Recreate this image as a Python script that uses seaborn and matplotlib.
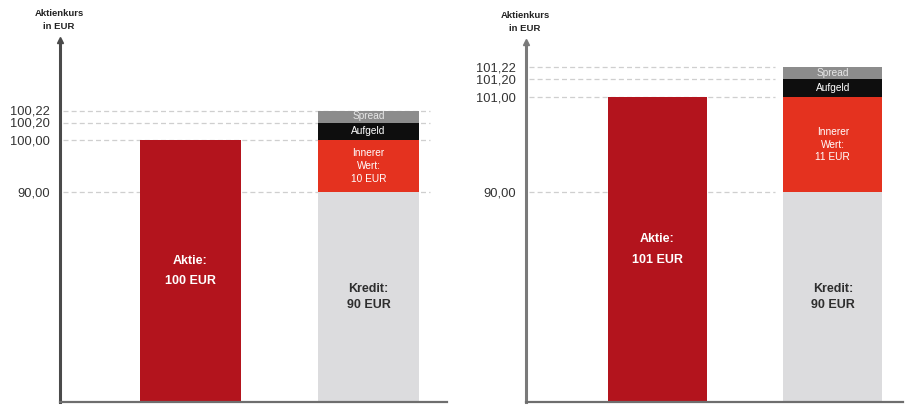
import numpy as np
import pandas as pd
import matplotlib
matplotlib.use("Agg")
import matplotlib.pyplot as plt
import seaborn as sns

# ---------------- data ----------------
categories = ["Aktie", "Optionsschein"]
stock_price = [100.0, 101.0]      # Aktie
credit = [90.0, 90.0]             # Kredit
inner_value = [10.0, 11.0]        # Innerer Wert
premium = [0.20, 0.20]            # Aufgeld
spread = [0.02, 0.02]             # Spread
axis_title = "Aktienkurs\nin EUR"
stock_label = "Aktie:\n{:.0f} EUR"
credit_label = "Kredit:\n{:.0f} EUR"
inner_label = "Innerer\nWert:\n{:.0f} EUR"
premium_label = "Aufgeld"
spread_label = "Spread"

# ---------------- layout / style ----------------
W, H = 905, 405
# schematic (non-linear) axis: pixel heights above baseline for
# [0, credit, stock, stock+premium, total, axis top]
axis_pos = [[0, 210, 262, 279.5, 291.5, 362],
            [0, 210, 305, 323, 335, 360]]
axes_px = [(60, 447, 402, 40), (526, 903, 402, 42)]   # left, right, bottom, top (px from top)
xlims = [(-0.73, 1.44), (-0.75, 1.40)]
grid_xmax = [0.956, 0.66]
spine_colors = ["#4a4a4a", "#7a7a7a"]
bar_width = 0.565

C_STOCK = "#B3141D"
C_INNER = "#E4321F"
C_PREM = "#0E0E0E"
C_SPREAD = "#8C8C8C"
C_CREDIT = "#DCDCDE"

sns.set_theme(style="white")
plt.rcParams["font.family"] = ["Liberation Sans", "DejaVu Sans"]

fig = plt.figure(figsize=(W / 100, H / 100), dpi=100)


def fmt(v):
    return f"{v:.2f}".replace(".", ",")


for i in range(2):
    l, r, b, t = axes_px[i]
    ax = fig.add_axes([l / W, (H - b) / H, (r - l) / W, (b - t) / H])

    total = stock_price[i] + premium[i] + spread[i]
    vals = [0.0, credit[i], stock_price[i], stock_price[i] + premium[i], total, total + 0.1]
    pos = axis_pos[i]

    def fwd(v, vals=vals, pos=pos):
        return np.interp(np.asarray(v, dtype=float), vals, pos)

    def inv(p, vals=vals, pos=pos):
        return np.interp(np.asarray(p, dtype=float), pos, vals)

    ax.set_yscale("function", functions=(fwd, inv))

    # grid lines
    ticks = [credit[i], stock_price[i], stock_price[i] + premium[i], total]
    for v in ticks:
        ax.axhline(v, xmin=0.008, xmax=grid_xmax[i], color="#cfcfcf", lw=0.9,
                   ls=(0, (4, 2.5)), zorder=0)

    # stacked option bar (drawn as overlapping cumulative bars)
    layers = [
        (total, C_SPREAD),
        (stock_price[i] + premium[i], C_PREM),
        (stock_price[i], C_INNER),
        (credit[i], C_CREDIT),
    ]
    for height, col in layers:
        df = pd.DataFrame({"cat": [categories[1]], "val": [height]})
        sns.barplot(data=df, x="cat", y="val", order=categories, color=col,
                    width=bar_width, errorbar=None, saturation=1, ax=ax,
                    linewidth=0, zorder=2)
    # stock bar
    df = pd.DataFrame({"cat": [categories[0]], "val": [stock_price[i]]})
    sns.barplot(data=df, x="cat", y="val", order=categories, color=C_STOCK,
                width=bar_width, errorbar=None, saturation=1, ax=ax,
                linewidth=0, zorder=2)

    ax.set_xlim(*xlims[i])
    ax.set_ylim(0, total + 0.1)

    def mid(lo, hi):
        return float(inv((fwd(lo) + fwd(hi)) / 2))

    # labels inside bars
    ax.text(0, mid(0, stock_price[i]), stock_label.format(stock_price[i]),
            ha="center", va="center", color="white", fontsize=9,
            fontweight="bold", linespacing=2.0, zorder=3)
    ax.text(1, mid(0, credit[i]) , credit_label.format(credit[i]),
            ha="center", va="center", color="#2e2e2e", fontsize=9,
            fontweight="bold", linespacing=1.4, zorder=3)
    ax.text(1, mid(credit[i], stock_price[i]), inner_label.format(inner_value[i]),
            ha="center", va="center", color="white", fontsize=7.3,
            linespacing=1.35, zorder=3)
    ax.text(1, mid(stock_price[i], stock_price[i] + premium[i]), premium_label,
            ha="center", va="center", color="white", fontsize=7.3, zorder=3)
    ax.text(1, mid(stock_price[i] + premium[i], total), spread_label,
            ha="center", va="center", color="#e6e6e6", fontsize=7.3, zorder=3)

    # axes styling
    ax.set_yticks(ticks)
    ax.set_yticklabels([fmt(v) for v in ticks])
    ax.yaxis.set_minor_locator(matplotlib.ticker.NullLocator())
    ax.tick_params(axis="y", length=0, pad=7, labelsize=9.3, labelcolor="#333333")
    ax.set_xticks([])
    ax.set_xlabel("")
    ax.set_ylabel("")
    for s in ["top", "right"]:
        ax.spines[s].set_visible(False)
    ax.spines["left"].set_color(spine_colors[i])
    ax.spines["left"].set_linewidth(2.2)
    ax.spines["bottom"].set_color("#6e6e6e")
    ax.spines["bottom"].set_linewidth(1.6)
    ax.set_facecolor("white")
    # arrow head at top of y-axis
    ax.plot([0], [1], marker="^", ms=5, color=spine_colors[i],
            transform=ax.transAxes, clip_on=False, zorder=5)
    ax.annotate(axis_title, xy=(0, 1), xycoords="axes fraction",
                xytext=(-1, 20), textcoords="offset pixels",
                ha="center", va="center", fontsize=6.8, fontweight="bold",
                color="#222222", linespacing=1.5)

fig.savefig("out.png", dpi=100, facecolor="white")
